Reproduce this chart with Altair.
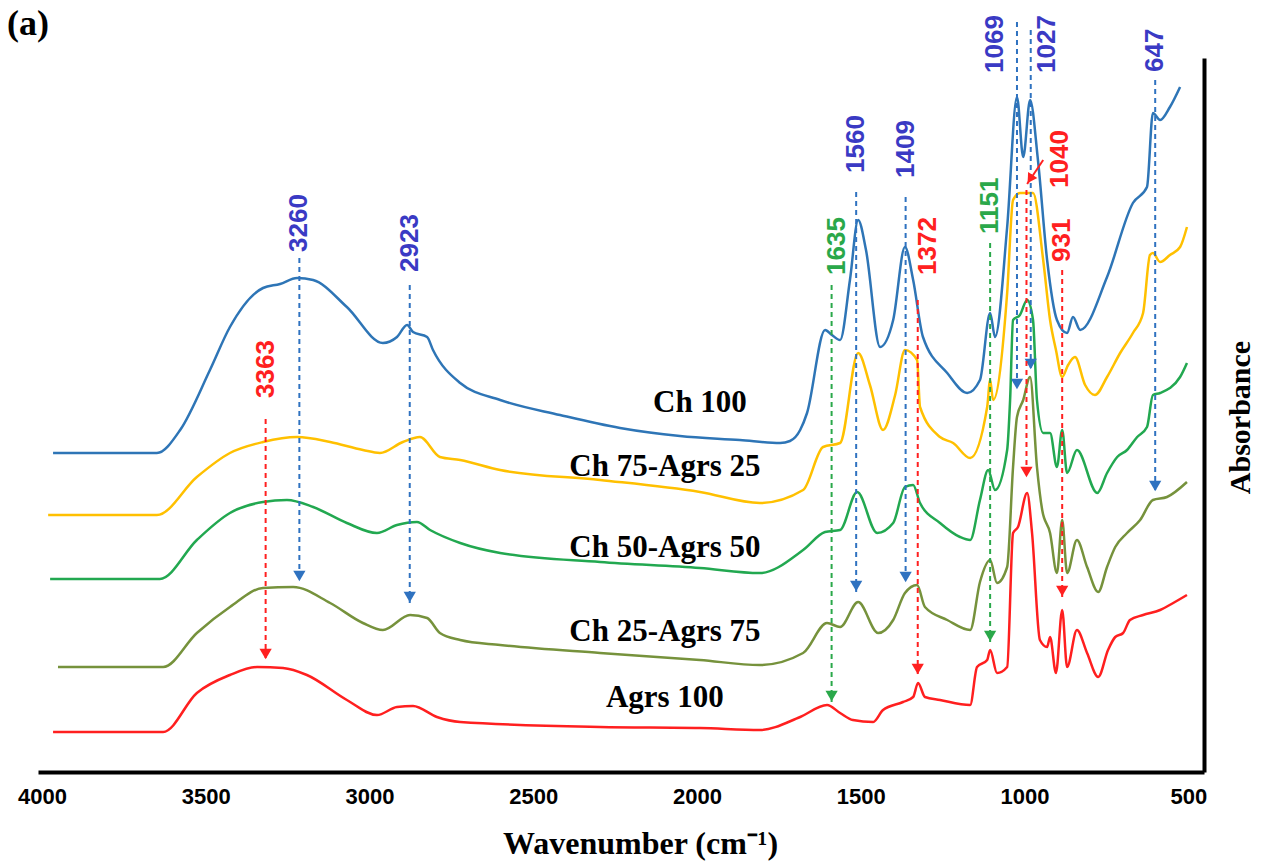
import altair as alt
import pandas as pd

# ---------------- spectra (wavenumber in cm-1, absorbance in arbitrary stacked units) ----------------
ch100_wn = [4012, 3695, 3624, 3533, 3472, 3371, 3319, 3267, 3218, 3115, 3005, 2962, 2931, 2913, 2870, 2852,
            2769, 2647, 2464, 2281, 2098, 1915, 1792, 1762, 1731, 1710, 1655, 1634, 1609, 1579, 1554, 1530,
            1487, 1447, 1411, 1386, 1356, 1282, 1221, 1182, 1151, 1136, 1099, 1069, 1050, 1029, 1005, 977,
            947, 916, 898, 876, 794, 715, 672, 654, 632, 602, 571]
ch100_abs = [319, 319, 342, 402, 445, 484, 488, 494, 492, 465, 429, 435, 447, 440, 435, 422,
             389, 372, 357, 344, 336, 332, 329, 331, 342, 359, 442, 437, 432, 492, 552, 522,
             425, 452, 525, 492, 435, 399, 379, 392, 459, 435, 545, 675, 615, 672, 612, 512,
             452, 439, 455, 442, 495, 569, 585, 659, 652, 665, 685]

ch75_wn = [4027, 3695, 3573, 3472, 3371, 3267, 3166, 3066, 3014, 2944, 2892, 2831, 2769, 2647, 2342, 2037,
           1854, 1722, 1661, 1609, 1554, 1518, 1478, 1441, 1411, 1374, 1365, 1304, 1264, 1212, 1160, 1151,
           1142, 1099, 1081, 1060, 1020, 989, 968, 950, 931, 913, 892, 861, 831, 794, 754, 715, 684, 663,
           654, 632, 602, 571, 550]
ch75_abs = [257, 257, 295, 319, 330, 335, 330, 322, 319, 330, 335, 315, 312, 302, 292, 280,
            269, 282, 325, 329, 419, 387, 342, 377, 422, 412, 365, 335, 329, 314, 365, 392,
            372, 479, 572, 579, 579, 512, 452, 422, 395, 407, 415, 387, 377, 395, 419, 439, 459, 517,
            519, 510, 517, 525, 545]

ch50_wn = [4021, 3686, 3573, 3472, 3371, 3298, 3218, 3115, 3023, 2962, 2901, 2861, 2769, 2647, 2342, 2037,
           1854, 1722, 1655, 1609, 1557, 1496, 1447, 1411, 1386, 1365, 1304, 1243, 1212, 1182, 1157, 1136,
           1099, 1090, 1081, 1060, 1038, 1020, 1008, 989, 968, 947, 931, 916, 886, 824, 794, 763, 733, 702,
           672, 654, 632, 571, 550]
ch50_abs = [193, 193, 232, 259, 270, 272, 265, 249, 239, 247, 250, 242, 229, 219, 210, 204,
            199, 222, 240, 242, 280, 239, 249, 285, 287, 269, 249, 235, 232, 272, 302, 282,
            322, 372, 452, 457, 472, 452, 372, 339, 339, 305, 342, 299, 322, 279, 299, 315, 322, 335,
            345, 377, 379, 395, 409]

ch25_wn = [3997, 3676, 3573, 3472, 3371, 3279, 3166, 3066, 3005, 2922, 2870, 2831, 2769, 2647, 2342, 2037,
           1854, 1722, 1649, 1609, 1554, 1493, 1447, 1411, 1374, 1350, 1282, 1212, 1182, 1151, 1130, 1099,
           1081, 1069, 1050, 1029, 1008, 992, 968, 947, 931, 916, 886, 855, 821, 794, 769, 733, 693, 654,
           611, 550]
ch25_abs = [105, 105, 139, 165, 184, 185, 169, 149, 142, 157, 154, 139, 132, 127, 119, 112,
            107, 119, 149, 145, 170, 139, 152, 179, 187, 165, 152, 142, 190, 212, 189, 205,
            305, 355, 372, 395, 305, 262, 239, 199, 252, 199, 232, 205, 180, 205, 225, 239, 252, 272,
            275, 290]

agrs_wn = [4012, 3676, 3573, 3472, 3389, 3310, 3237, 3115, 3023, 2962, 2913, 2840, 2769, 2342, 2037, 1854,
           1731, 1649, 1609, 1570, 1508, 1478, 1417, 1386, 1371, 1350, 1304, 1212, 1191, 1160, 1151, 1130,
           1099, 1081, 1066, 1038, 1023, 999, 977, 968, 950, 931, 916, 886, 855, 821, 791, 769, 745, 724,
           684, 632, 592, 550]
agrs_abs = [40, 40, 79, 97, 105, 104, 97, 72, 57, 65, 66, 55, 50, 45, 44, 42,
            55, 67, 59, 52, 50, 62, 70, 75, 89, 75, 72, 67, 105, 112, 122, 99,
            105, 239, 245, 279, 239, 132, 125, 135, 99, 162, 105, 142, 119, 95, 122, 135, 139, 152,
            157, 162, 169, 177]

series_names = ["Ch 100", "Ch 75-Agrs 25", "Ch 50-Agrs 50", "Ch 25-Agrs 75", "Agrs 100"]
series_label_wn = [2037, 2144, 2144, 2144, 2144]
series_label_abs = [369, 305, 224, 140, 74]

# ---------------- peak annotations ----------------
ann_label = ["3260", "2923", "1560", "1409", "1069", "1027", "647", "1635", "1151", "3363", "1372", "931", "1040"]
ann_wn = [3260, 2923, 1560, 1409, 1069, 1027, 647, 1635, 1151, 3363, 1372, 931, 1040]
ann_group = ["chitosan"] * 7 + ["both"] * 2 + ["agarose"] * 4
ann_top = [514, 487, 580, 575, 750, 742, 692, 487, 529, 353, 472, 502, 582]
ann_tip = [190, 169, 180, 189, 382, 402, 280, 70, 130, 112, 97, 175, 294]
ann_label_wn = [3260, 2923, 1560, 1409, 1136, 977, 647, 1620, 1151, 3363, 1340, 931, 937]
ann_label_abs = [520, 500, 599, 594, 699, 699, 700, 497, 538, 374, 497, 510, 584]

callout_wn = [989, 1038]
callout_abs = [612, 588]

tick_values = [4000, 3500, 3000, 2500, 2000, 1500, 1000, 500]

# ---------------- tables ----------------
rows = []
for name, wn, ab in zip(series_names,
                        [ch100_wn, ch75_wn, ch50_wn, ch25_wn, agrs_wn],
                        [ch100_abs, ch75_abs, ch50_abs, ch25_abs, agrs_abs]):
    for w, a in zip(wn, ab):
        rows.append({"series": name, "wavenumber": w, "absorbance": a})
spectra = pd.DataFrame(rows)

labels_df = pd.DataFrame({"series": series_names, "wavenumber": series_label_wn,
                          "absorbance": series_label_abs})

ann = pd.DataFrame({"label": ann_label, "wavenumber": ann_wn, "group": ann_group,
                    "top": ann_top, "tip": ann_tip, "label_wn": ann_label_wn,
                    "label_abs": ann_label_abs})
callout = pd.DataFrame({"wavenumber": [callout_wn[0]], "wavenumber2": [callout_wn[1]],
                        "absorbance": [callout_abs[0]], "absorbance2": [callout_abs[1]]})

# ---------------- scales / axes ----------------
x_scale = alt.Scale(domain=[498, 4058], reverse=True, nice=False, zero=False)
y_scale = alt.Scale(domain=[0, 714], nice=False, zero=False)

x_axis = alt.Axis(values=tick_values, format="d", ticks=False, tickSize=0, grid=False,
                  domainColor="black", domainWidth=4, labelColor="black",
                  labelFont="Liberation Sans", labelFontSize=22, labelFontWeight="bold",
                  labelPadding=14, labelOffset=-15, labelFlush=False,
                  title="Wavenumber (cm⁻¹)", titleFont="Liberation Serif",
                  titleFontSize=32, titleFontWeight="bold", titleColor="black",
                  titlePadding=21, titleX=602, titleAlign="center")
y_axis = alt.Axis(orient="right", labels=False, ticks=False, tickSize=0, grid=False,
                  domainColor="black", domainWidth=4, title="Absorbance", titleAngle=270,
                  titleFont="Liberation Serif", titleFontSize=30, titleFontWeight="bold",
                  titleColor="black", titleAlign="center", titleBaseline="middle",
                  titleX=36, titleY=359)


def X(field):
    return alt.X(f"{field}:Q", scale=x_scale, axis=x_axis)


def Y(field):
    return alt.Y(f"{field}:Q", scale=y_scale, axis=y_axis)


curve_colors = ["#2e75b6", "#ffc000", "#22a850", "#76923c", "#ff1f1f"]

curves = alt.Chart(spectra).mark_line(strokeWidth=2.5, interpolate="monotone").encode(
    x=X("wavenumber"), y=Y("absorbance"),
    color=alt.Color("series:N", scale=alt.Scale(domain=series_names, range=curve_colors), legend=None),
    detail="series:N",
)

series_text = alt.Chart(labels_df).mark_text(
    font="Liberation Serif", fontSize=31, fontWeight="bold", color="black",
    align="center", baseline="middle",
).encode(x=X("wavenumber"), y=Y("absorbance"), text="series:N")

group_styles = {
    "chitosan": {"line": "#2f72c0", "text": "#3a3ac4"},
    "both": {"line": "#2aa84a", "text": "#2aa84a"},
    "agarose": {"line": "#ff2020", "text": "#ff2020"},
}

layers = [curves]
for g, st in group_styles.items():
    base = alt.Chart(ann).transform_filter(alt.datum.group == g)
    layers.append(base.mark_rule(color=st["line"], strokeWidth=2, strokeDash=[5, 4]).encode(
        x=X("wavenumber"), y=Y("top"), y2="tip:Q"))
    layers.append(base.mark_point(shape="triangle-down", filled=True, size=150, opacity=1,
                                  color=st["line"], yOffset=-6).encode(
        x=X("wavenumber"), y=Y("tip")))
    layers.append(base.mark_text(angle=270, align="left", baseline="middle",
                                 font="Liberation Sans", fontSize=26, fontWeight="bold",
                                 color=st["text"]).encode(
        x=X("label_wn"), y=Y("label_abs"), text="label:N"))

layers.append(alt.Chart(callout).mark_rule(color="#ff2020", strokeWidth=2).encode(
    x=X("wavenumber"), x2="wavenumber2:Q", y=Y("absorbance"), y2="absorbance2:Q"))
layers.append(alt.Chart(callout).mark_point(shape="triangle-up", filled=True, size=120, opacity=1,
                                            color="#ff2020", angle=213, xOffset=3, yOffset=-5).encode(
    x=X("wavenumber2"), y=Y("absorbance2")))
layers.append(series_text)

chart = alt.layer(*layers).properties(
    width=1166,
    height=714,
    padding={"left": 38, "top": 58, "right": 59, "bottom": 95},
    autosize=alt.AutoSizeParams(type="none"),
    title=alt.TitleParams("(a)", anchor="start", frame="group", dx=-31, dy=42, offset=14,
                          font="Liberation Serif", fontSize=36, fontWeight="bold", color="black"),
).configure_view(stroke=None)

chart.save("out.html", embed_options={"renderer": "svg", "actions": False})
